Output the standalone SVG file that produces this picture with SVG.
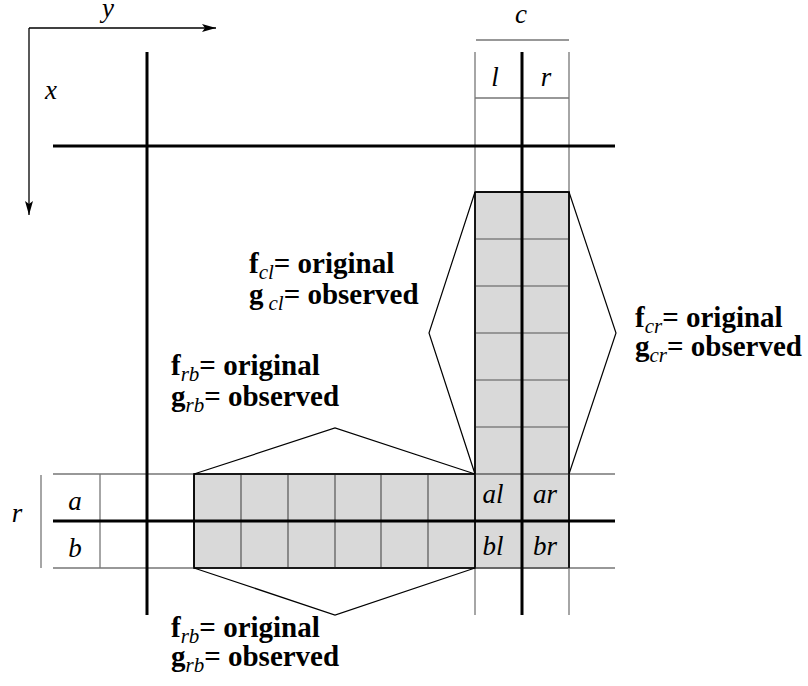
<svg xmlns="http://www.w3.org/2000/svg" width="808" height="686" viewBox="0 0 808 686">
<defs>
<marker id="ah" viewBox="0 0 14 8" refX="14" refY="4" markerWidth="14" markerHeight="8" markerUnits="userSpaceOnUse" orient="auto">
<path d="M0,0 L14,4 L0,8 L3,4 Z" fill="#000"/>
</marker>
</defs>
<rect width="808" height="686" fill="#fff"/>
<g id="axes">
<path d="M29,28 L216,28" stroke="#000" stroke-width="1.3" fill="none" marker-end="url(#ah)"/>
<path d="M29,28 L29,215" stroke="#000" stroke-width="1.3" fill="none" marker-end="url(#ah)"/>
<text x="102" y="17" font-family="Liberation Serif" font-style="italic" font-size="27">y</text>
<text x="45" y="99" font-family="Liberation Serif" font-style="italic" font-size="27">x</text>
</g>
<g id="shaded">
<rect x="475" y="192" width="94" height="376" fill="#d9d9d9" stroke="#000" stroke-width="1.5"/>
<rect x="194" y="474" width="281" height="94" fill="#d9d9d9" stroke="#000" stroke-width="1.5"/>
<path d="M522,192 V568 M475,239 H569 M475,286 H569 M475,333 H569 M475,380 H569 M475,427 H569 M475,474 H569 M475,521 H569 M241,474 V568 M288,474 V568 M335,474 V568 M381,474 V568 M428,474 V568 M194,521 H475" stroke="#555" stroke-width="1.2" fill="none"/>
</g>
<g id="gridlines">
<path d="M475,52 V615 M569,52 V615 M475,98 H569 M476,40 H569 M53,474 H615 M53,568 H615 M100,474 V568 M41,475 V568" stroke="#777" stroke-width="1.3" fill="none"/>
<path d="M147,52 V615 M53,146 H615 M522,52 V615 M53,521 H615" stroke="#000" stroke-width="3" fill="none"/>
<path d="M475,192 V568 H194 V474 H475 M475,192 H569 V568" stroke="#000" stroke-width="1.5" fill="none"/>
</g>
<g id="connectors" stroke="#000" stroke-width="1.2" fill="none">
<path d="M194,474 L335,428 L475,474"/>
<path d="M194,568 L335,615 L475,568"/>
<path d="M475,192 L429,333 L475,474"/>
<path d="M569,192 L616,333 L569,474"/>
</g>
<g id="labels">
<text x="521" y="23" font-family="Liberation Serif" font-style="italic" font-size="27" text-anchor="middle">c</text>
<text x="495" y="86" font-family="Liberation Serif" font-style="italic" font-size="27" text-anchor="middle">l</text>
<text x="546" y="86" font-family="Liberation Serif" font-style="italic" font-size="27" text-anchor="middle">r</text>
<text x="75" y="510" font-family="Liberation Serif" font-style="italic" font-size="27" text-anchor="middle">a</text>
<text x="75" y="557" font-family="Liberation Serif" font-style="italic" font-size="27" text-anchor="middle">b</text>
<text x="17" y="522" font-family="Liberation Serif" font-style="italic" font-size="27" text-anchor="middle">r</text>
<text x="493" y="503" font-family="Liberation Serif" font-style="italic" font-size="27" text-anchor="middle">al</text>
<text x="545" y="503" font-family="Liberation Serif" font-style="italic" font-size="27" text-anchor="middle">ar</text>
<text x="493" y="555" font-family="Liberation Serif" font-style="italic" font-size="27" text-anchor="middle">bl</text>
<text x="545" y="555" font-family="Liberation Serif" font-style="italic" font-size="27" text-anchor="middle">br</text>
</g>
<g id="text-cl">
<text x="249" y="273" font-family="Liberation Serif" font-weight="bold" font-size="29">f<tspan dy="6" font-family="Liberation Serif" font-style="italic" font-weight="normal" font-size="21">cl</tspan><tspan dy="-6" font-family="Liberation Serif">= original</tspan></text>
<text x="249" y="304" font-family="Liberation Serif" font-weight="bold" font-size="29">g<tspan dx="5" dy="6" font-family="Liberation Serif" font-style="italic" font-weight="normal" font-size="21">cl</tspan><tspan dy="-6" font-family="Liberation Serif">= observed</tspan></text>
</g>
<g id="text-cr">
<text x="635" y="327" font-family="Liberation Serif" font-weight="bold" font-size="29">f<tspan dy="6" font-family="Liberation Serif" font-style="italic" font-weight="normal" font-size="21">cr</tspan><tspan dy="-6" font-family="Liberation Serif">= original</tspan></text>
<text x="635" y="356" font-family="Liberation Serif" font-weight="bold" font-size="29">g<tspan dy="6" font-family="Liberation Serif" font-style="italic" font-weight="normal" font-size="21">cr</tspan><tspan dy="-6" font-family="Liberation Serif">= observed</tspan></text>
</g>
<g id="text-rb-top">
<text x="171" y="375" font-family="Liberation Serif" font-weight="bold" font-size="29">f<tspan dy="6" font-family="Liberation Serif" font-style="italic" font-weight="normal" font-size="21">rb</tspan><tspan dy="-6" font-family="Liberation Serif">= original</tspan></text>
<text x="171" y="406" font-family="Liberation Serif" font-weight="bold" font-size="29">g<tspan dy="6" font-family="Liberation Serif" font-style="italic" font-weight="normal" font-size="21">rb</tspan><tspan dy="-6" font-family="Liberation Serif">= observed</tspan></text>
</g>
<g id="text-rb-bottom">
<text x="171" y="637" font-family="Liberation Serif" font-weight="bold" font-size="29">f<tspan dy="6" font-family="Liberation Serif" font-style="italic" font-weight="normal" font-size="21">rb</tspan><tspan dy="-6" font-family="Liberation Serif">= original</tspan></text>
<text x="171" y="666" font-family="Liberation Serif" font-weight="bold" font-size="29">g<tspan dy="6" font-family="Liberation Serif" font-style="italic" font-weight="normal" font-size="21">rb</tspan><tspan dy="-6" font-family="Liberation Serif">= observed</tspan></text>
</g>
</svg>
